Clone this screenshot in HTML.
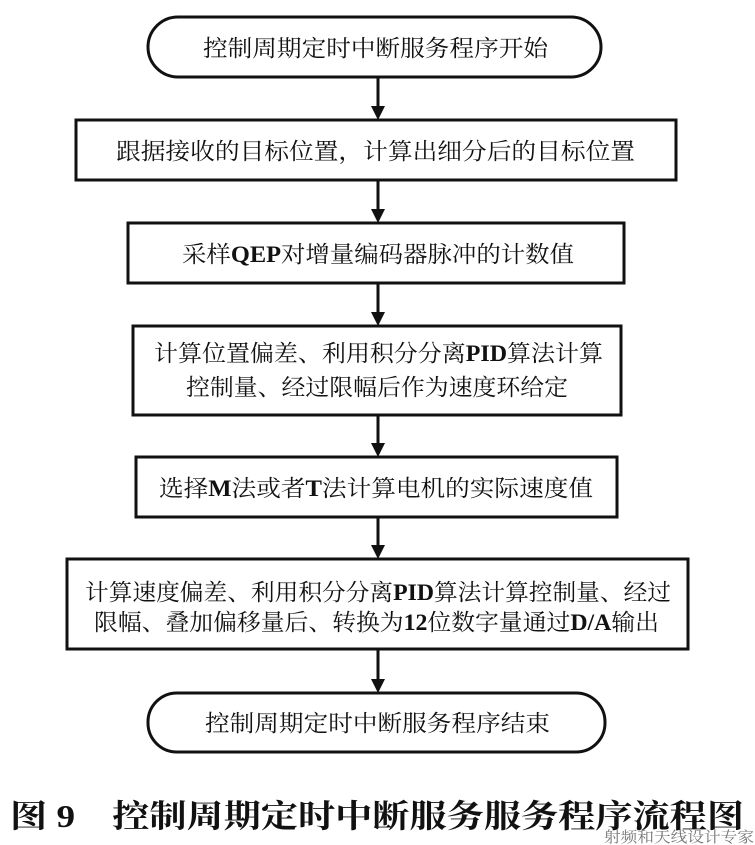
<!DOCTYPE html>
<html><head><meta charset="utf-8"><style>html,body{margin:0;padding:0;background:#fff}svg{display:block}</style></head>
<body>
<svg width="755" height="845" viewBox="0 0 755 845" xmlns="http://www.w3.org/2000/svg" font-family="'Liberation Serif','Noto Serif CJK SC',serif" fill="#111">
<g fill="none" stroke="#111" stroke-width="3">
<rect x="148" y="17" width="453" height="60" rx="30"/>
<rect x="76" y="120" width="600" height="60"/>
<rect x="128" y="223" width="496" height="60"/>
<rect x="133" y="326" width="488" height="89"/>
<rect x="136" y="457" width="481" height="60"/>
<rect x="67" y="559" width="621" height="90"/>
<rect x="148" y="693" width="457" height="59" rx="29"/>
<line x1="378" y1="77" x2="378" y2="108"/>
<line x1="378" y1="180" x2="378" y2="211"/>
<line x1="378" y1="283" x2="378" y2="314"/>
<line x1="378" y1="415" x2="378" y2="445"/>
<line x1="378" y1="517" x2="378" y2="547"/>
<line x1="378" y1="649" x2="378" y2="681"/>
</g>
<g fill="#111">
<polygon points="371,106 385,106 378,120"/>
<polygon points="371,209 385,209 378,223"/>
<polygon points="371,312 385,312 378,326"/>
<polygon points="371,443 385,443 378,457"/>
<polygon points="371,545 385,545 378,559"/>
<polygon points="371,679 385,679 378,693"/>
</g>
<g font-size="23">
<text x="203" y="56" textLength="345" lengthAdjust="spacingAndGlyphs">控制周期定时中断服务程序开始</text>
<text x="116" y="159" textLength="519" lengthAdjust="spacingAndGlyphs">跟据接收的目标位置，计算出细分后的目标位置</text>
<text x="182" y="262" textLength="392" lengthAdjust="spacingAndGlyphs">采样<tspan font-weight="bold">QEP</tspan>对增量编码器脉冲的计数值</text>
<text x="154" y="361" textLength="449" lengthAdjust="spacingAndGlyphs">计算位置偏差、利用积分分离<tspan font-weight="bold">PID</tspan>算法计算</text>
<text x="186" y="395" textLength="382" lengthAdjust="spacingAndGlyphs">控制量、经过限幅后作为速度环给定</text>
<text x="159" y="496" textLength="434" lengthAdjust="spacingAndGlyphs">选择<tspan font-weight="bold">M</tspan>法或者<tspan font-weight="bold">T</tspan>法计算电机的实际速度值</text>
<text x="85" y="600" textLength="586" lengthAdjust="spacingAndGlyphs">计算速度偏差、利用积分分离<tspan font-weight="bold">PID</tspan>算法计算控制量、经过</text>
<text x="94" y="630" textLength="565" lengthAdjust="spacingAndGlyphs">限幅、叠加偏移量后、转换为<tspan font-weight="bold">12</tspan>位数字量通过<tspan font-weight="bold">D/A</tspan>输出</text>
<text x="205" y="731" textLength="345" lengthAdjust="spacingAndGlyphs">控制周期定时中断服务程序结束</text>
</g>
<text x="10" y="827" font-size="32" font-weight="bold" textLength="734" lengthAdjust="spacingAndGlyphs">图 9　控制周期定时中断服务服务程序流程图</text>
<text x="604" y="842" font-size="15" fill="#777" textLength="150" lengthAdjust="spacingAndGlyphs">射频和天线设计专家</text>
</svg>
</body></html>
